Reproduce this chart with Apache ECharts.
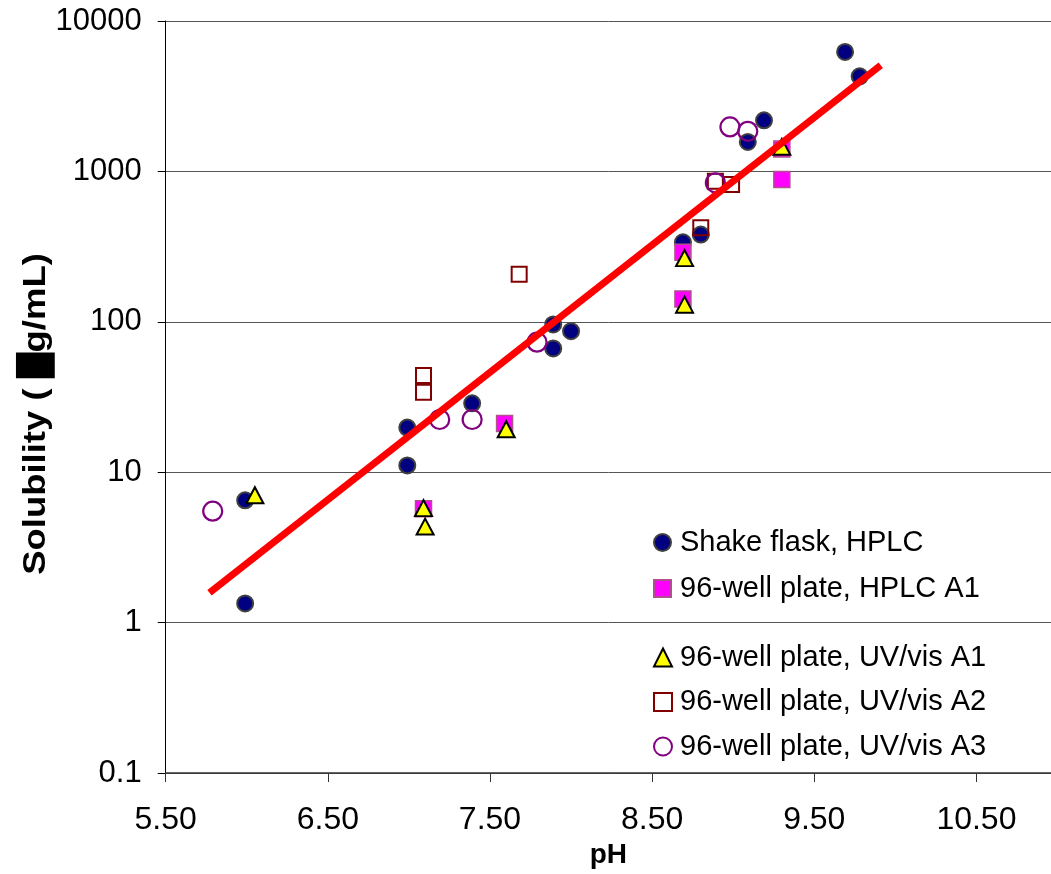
<!DOCTYPE html>
<html>
<head>
<meta charset="utf-8">
<script src="https://cdn.jsdelivr.net/npm/echarts@6/dist/echarts.min.js"></script>
<style>
  html, body { margin: 0; padding: 0; background: #fff; }
  #chart { width: 1051px; height: 874px; }
</style>
</head>
<body>
<div id="chart"></div>
<script>
// values: [pH, solubility]
const shakeFlask = [[5.99, 6.5], [5.99, 1.34], [6.99, 11.1], [6.99, 19.8], [7.39, 28.7], [7.89, 96], [7.89, 66.5], [8.0, 86.6], [8.69, 338], [8.8, 380], [9.09, 1570], [9.19, 2185], [9.69, 6225], [9.78, 4285]];
const hplcA1 = [[7.09, 5.72], [7.59, 21.1], [8.69, 290], [8.69, 142], [9.3, 883], [9.3, 1410]];
const uvA1 = [[6.05, 7.03], [7.09, 5.77], [7.1, 4.35], [7.6, 19.3], [8.7, 265], [8.7, 130], [9.3, 1457]];
const uvA2 = [[7.68, 207], [7.09, 44], [7.09, 34], [8.8, 422], [8.89, 860], [8.99, 817]];
const uvA3 = [[5.79, 5.51], [7.19, 22.4], [7.39, 22.4], [7.79, 73.2], [8.89, 839], [8.98, 1977], [9.09, 1846]];
const trend = [[5.77, 1.58], [9.91, 5070]];

const names = ['Shake flask, HPLC', '96-well plate, HPLC A1', '96-well plate, UV/vis A1', '96-well plate, UV/vis A2', '96-well plate, UV/vis A3'];
const yTickLabels = ['0.1', '1', '10', '100', '1000', '10000'];

const chart = echarts.init(document.getElementById('chart'));
const font = "'Liberation Sans', Arial, sans-serif";

const option = {
  animation: false,
  backgroundColor: '#fff',
  textStyle: { fontFamily: font },
  grid: { left: 165.7, right: 0, top: 21, height: 754 },
  xAxis: {
    type: 'value',
    min: 5.5,
    max: 10.96,
    interval: 1,
    name: 'pH',
    nameLocation: 'middle',
    nameGap: 68,
    nameTextStyle: { fontSize: 28, fontWeight: 'bold', color: '#000', fontFamily: font },
    axisLine: { lineStyle: { color: '#333', width: 1.5 } },
    axisTick: { show: true, inside: false, length: 9, lineStyle: { color: '#333' } },
    axisLabel: {
      margin: 31, fontSize: 32, color: '#000', fontFamily: font,
      showMaxLabel: false,
      formatter: v => v.toFixed(2)
    },
    splitLine: { show: false }
  },
  yAxis: {
    type: 'log',
    logBase: 10,
    min: 0.1,
    max: 10000,
    axisLine: { show: true, lineStyle: { color: '#000', width: 1 } },
    axisTick: { show: true, length: 8, lineStyle: { color: '#000' } },
    axisLabel: {
      margin: 24, fontSize: 31, color: '#000', fontFamily: font,
      formatter: v => yTickLabels[Math.round(Math.log10(v)) + 1]
    },
    splitLine: { show: true, lineStyle: { color: '#555', width: 1 } }
  },
  legend: [
    {
      data: names.slice(0, 2),
      orient: 'vertical',
      left: 648,
      top: 523,
      itemWidth: 17,
      itemHeight: 17,
      itemGap: 17,
      textStyle: { fontSize: 29, color: '#000', fontFamily: font, padding: [0, 0, 0, 4] }
    },
    {
      data: names.slice(2),
      orient: 'vertical',
      left: 648,
      top: 638,
      itemWidth: 18,
      itemHeight: 18,
      itemGap: 15.5,
      textStyle: { fontSize: 29, color: '#000', fontFamily: font, padding: [0, 0, 0, 3] }
    }
  ],
  graphic: [
    {
      type: 'text',
      x: 36,
      y: 414,
      rotation: Math.PI / 2,
      scaleX: 1.14,
      style: {
        text: 'Solubility ( \u2588g/mL)',
        font: "bold 32px 'Liberation Sans', Arial, sans-serif",
        fill: '#000',
        align: 'center',
        verticalAlign: 'middle'
      }
    }
  ],
  series: [
    {
      name: names[0], type: 'scatter', data: shakeFlask,
      symbol: 'circle', symbolSize: 16, z: 2,
      itemStyle: { color: '#000080', borderColor: '#404040', borderWidth: 2, opacity: 1 }
    },
    {
      name: names[1], type: 'scatter', data: hplcA1,
      symbol: 'rect', symbolSize: 16, z: 3,
      itemStyle: { color: '#FF00FF', borderColor: '#B0508E', borderWidth: 1.5, opacity: 1 }
    },
    {
      name: names[2], type: 'scatter', data: uvA1,
      symbol: 'triangle', symbolSize: [17, 16], z: 4,
      itemStyle: { color: '#FFFF00', borderColor: '#000', borderWidth: 2, opacity: 1 }
    },
    {
      name: names[3], type: 'scatter', data: uvA2,
      symbol: 'rect', symbolSize: 15, z: 5,
      itemStyle: { color: 'rgba(255,255,255,0)', borderColor: '#800000', borderWidth: 2, opacity: 1 }
    },
    {
      name: names[4], type: 'scatter', data: uvA3,
      symbol: 'circle', symbolSize: 19, z: 6,
      itemStyle: { color: 'rgba(255,255,255,0)', borderColor: '#800080', borderWidth: 2.2, opacity: 1 }
    },
    {
      name: 'trend', type: 'line', data: trend,
      showSymbol: false, symbol: 'none', z: 10,
      lineStyle: { color: '#FF0000', width: 7 }
    }
  ]
};

chart.setOption(option);
window.addEventListener('resize', () => chart.resize());
</script>
</body>
</html>
